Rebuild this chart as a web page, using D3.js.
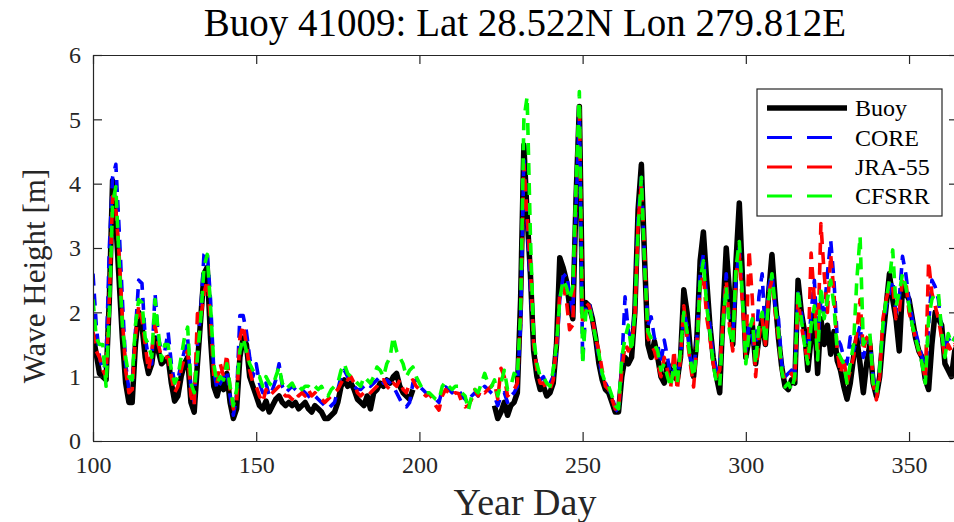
<!DOCTYPE html>
<html><head><meta charset="utf-8">
<script src="https://cdn.jsdelivr.net/npm/d3@7"></script>
<style>body{margin:0;background:#fff}svg{display:block}</style>
</head><body>
<svg id="chart" width="954" height="522"></svg>
<script>
const startDay = 100, endDay = 365;
const xTicks = [100,150,200,250,300,350];
const yTicks = [0,1,2,3,4,5,6];
const seriesNames = ["Buoy","CORE","JRA-55","CFSRR"];
const seriesColors = ["#000000","#0000ff","#ff0000","#00ff00"];

const buoy = [
1.65,1.35,1.05,1.0,0.95,2.2,4.05,3.4,2.5,1.6,
0.9,0.6,0.6,1.5,2.0,1.8,1.3,1.05,1.2,1.6,
1.4,1.2,1.25,1.3,0.9,0.62,0.7,1.0,1.2,1.3,
0.6,0.45,1.2,1.9,2.6,2.7,1.6,0.85,0.7,0.9,
0.8,1.05,0.6,0.35,0.5,1.3,1.6,1.5,1.0,0.85,
0.7,0.55,0.5,0.62,0.45,0.55,0.65,0.7,0.6,0.55,
0.6,0.55,0.6,0.5,0.55,0.6,0.5,0.45,0.55,0.5,
0.45,0.35,0.35,0.4,0.45,0.6,0.85,0.95,0.85,0.9,
0.8,0.65,0.6,0.55,0.7,0.5,0.75,0.8,0.9,0.85,
0.95,0.9,1.0,1.05,0.85,0.75,0.7,0.65,0.8,null,
null,null,null,null,null,null,null,null,null,null,
null,null,null,null,null,null,null,null,null,null,
null,null,null,0.55,0.35,0.45,0.6,0.4,0.55,0.6,
0.75,2.2,4.6,3.5,2.6,1.4,1.0,0.8,0.85,0.7,
0.75,0.9,1.5,2.85,2.7,2.5,2.1,1.9,3.8,5.2,
2.0,2.15,2.1,1.9,1.6,1.2,0.95,0.8,0.75,0.6,
0.45,0.45,1.0,1.3,1.2,1.3,2.0,3.6,4.3,2.8,
1.5,1.3,1.55,1.3,1.0,0.9,1.2,1.1,1.0,0.95,
1.3,2.35,2.0,1.4,1.0,1.6,2.8,3.25,2.5,1.8,
1.3,1.0,0.75,2.0,3.0,2.3,1.5,2.8,3.7,2.5,
1.3,1.6,1.8,1.2,1.6,1.9,1.5,2.3,2.9,2.2,
1.6,1.15,0.85,0.8,0.95,0.9,2.5,2.0,1.7,1.1,
1.6,2.0,1.05,1.9,1.5,1.8,1.35,1.7,1.25,1.1,
0.85,0.65,0.9,1.3,1.6,1.2,0.75,1.2,1.5,0.9,
0.7,1.0,1.6,2.1,2.6,2.2,1.9,1.4,2.4,2.3,
2.2,1.9,1.6,1.4,1.3,0.95,0.8,1.5,2.0,1.9,
1.8,1.2,1.1,1.0,1.4,1.5];

const core = [
2.6,1.8,1.3,1.1,1.2,3.0,4.1,4.3,3.3,2.2,
1.2,0.8,0.85,1.7,2.5,2.45,1.6,1.3,1.2,2.3,
1.6,1.4,1.4,1.7,1.2,0.9,0.95,1.2,1.4,1.6,
0.8,0.6,1.5,2.0,2.9,2.95,2.2,1.1,0.8,0.9,
1.0,1.1,0.7,0.4,0.7,1.95,1.95,1.7,1.3,1.0,
1.2,0.9,0.75,0.9,0.7,0.8,0.95,1.2,0.85,0.75,
0.8,0.85,0.8,0.75,0.8,0.75,0.7,0.65,0.7,0.65,
0.6,0.55,0.5,0.55,0.6,0.8,1.0,1.1,1.0,0.95,
0.85,0.8,0.8,0.85,0.9,0.85,0.9,0.95,1.0,0.9,
0.95,0.9,0.85,0.75,0.65,0.55,0.53,0.6,0.9,0.95,
0.85,0.8,0.75,0.72,0.7,0.65,0.6,0.8,0.84,0.8,
0.75,0.8,0.8,0.7,0.65,0.6,0.7,0.75,0.7,0.8,
0.85,0.8,0.75,0.7,0.55,0.7,0.75,0.6,0.7,0.75,
0.85,1.8,4.4,3.4,2.4,1.5,1.15,0.95,1.0,0.85,
0.9,1.0,1.4,2.2,2.55,2.6,2.3,2.0,3.6,5.1,
1.25,2.1,2.15,1.9,1.6,1.3,1.0,0.9,0.8,0.7,
0.5,0.45,1.2,2.24,1.7,1.6,2.0,3.5,4.1,2.8,
1.8,1.93,1.6,1.5,1.2,1.57,1.3,1.0,1.1,1.0,
1.3,2.0,1.8,1.3,1.1,1.6,2.6,2.9,2.2,1.8,
1.3,1.1,1.2,1.83,2.6,1.8,1.6,2.5,3.0,2.2,
1.4,1.8,1.6,1.3,2.24,2.6,1.6,2.4,2.6,2.1,
1.9,1.2,1.0,1.05,1.1,1.0,2.3,2.0,1.6,1.3,
2.0,2.5,1.5,2.2,2.0,2.6,3.12,2.5,1.6,1.5,
1.3,1.2,1.62,1.4,1.6,1.8,1.3,1.5,1.6,1.0,
0.75,1.1,1.7,2.1,2.3,2.5,2.0,2.2,2.87,2.6,
2.2,1.9,1.7,1.5,1.3,1.0,1.8,2.5,2.4,2.2,
1.7,1.4,1.6,1.5,1.6,1.5];

const jra55 = [
1.7,1.4,1.3,1.1,1.0,2.2,3.8,3.6,2.9,1.9,
1.1,0.75,0.8,1.6,2.1,1.9,1.5,1.1,1.4,1.8,
1.5,1.3,1.3,1.3,1.0,0.75,0.85,1.1,1.3,1.4,
0.7,0.55,1.98,1.9,2.3,2.5,1.9,1.0,0.9,1.2,
1.0,1.35,0.8,0.5,0.6,1.6,1.8,1.5,1.1,0.9,
0.85,0.7,0.6,0.8,0.7,0.75,0.8,0.85,0.75,0.7,
0.7,0.65,0.75,0.7,0.75,0.7,0.8,0.7,0.75,0.7,
0.65,0.6,0.65,0.7,0.75,0.8,0.9,1.0,0.95,1.0,
0.9,0.75,0.7,0.75,0.8,0.75,0.8,0.85,0.95,0.95,
0.85,0.8,0.9,0.85,0.95,0.8,0.75,0.9,0.95,0.85,
0.8,0.75,0.7,0.74,0.65,0.55,0.48,0.7,0.8,0.75,
0.7,0.75,0.74,0.6,0.53,0.55,0.65,0.8,0.7,0.8,
0.75,0.8,0.85,0.9,0.65,1.13,1.0,0.7,0.75,0.8,
0.9,1.9,4.3,3.5,2.7,1.5,1.1,0.9,0.9,0.8,
0.8,0.95,1.5,2.3,2.4,2.2,1.73,1.8,3.9,5.25,
1.8,2.15,2.1,1.9,1.6,1.4,1.1,0.85,0.8,0.65,
0.5,0.5,1.1,1.5,1.4,1.5,1.9,3.4,4.0,2.9,
1.6,1.5,1.4,1.2,1.0,1.3,1.1,0.84,1.41,0.79,
1.3,2.1,1.6,1.2,0.84,1.5,2.4,2.6,1.93,1.6,
1.2,1.0,1.1,1.9,2.5,1.8,1.4,2.6,2.9,2.1,
1.3,2.97,2.2,1.0,1.6,1.9,1.5,2.3,2.5,2.0,
1.6,1.1,0.95,1.0,1.05,0.95,2.2,1.8,1.5,1.2,
2.92,2.2,1.4,3.38,2.6,2.0,2.9,2.3,1.4,1.05,
1.3,0.9,1.1,1.3,1.7,2.2,1.4,1.6,1.67,0.9,
0.64,1.0,1.9,2.2,2.4,2.4,1.9,2.0,2.5,2.5,
2.0,1.8,1.6,1.4,1.25,0.95,2.79,2.3,2.1,1.9,
1.6,1.3,1.5,1.4,1.5,1.4];

const cfsrr = [
2.2,1.6,1.5,1.5,0.85,2.0,3.7,3.95,2.8,1.8,
1.3,1.0,0.95,1.8,2.2,2.15,1.6,1.5,1.3,2.2,
1.7,1.25,1.5,1.5,1.1,0.9,1.0,1.3,1.6,1.77,
0.9,0.75,1.3,1.9,2.7,2.9,2.1,1.2,0.9,1.0,
0.95,1.2,0.85,0.55,0.8,1.4,1.6,1.4,1.2,1.1,
1.0,1.0,0.85,1.0,0.9,0.85,1.0,1.15,0.9,0.8,
0.85,0.9,0.8,0.85,0.8,0.85,0.85,0.8,0.85,0.8,
0.85,0.75,0.7,0.8,0.85,0.9,1.1,1.2,1.05,1.0,
0.95,0.9,0.85,1.0,0.95,0.9,1.0,1.15,1.1,1.0,
1.2,1.3,1.62,1.4,1.3,1.2,1.0,1.1,1.15,1.0,
0.9,0.8,0.75,0.75,0.7,0.65,0.64,0.85,0.92,0.85,
0.8,0.85,0.85,0.75,0.7,0.48,0.7,0.8,0.75,0.9,
1.05,0.9,0.84,0.95,0.7,0.9,1.1,0.8,0.85,1.05,
1.0,2.0,5.0,5.35,3.2,1.6,1.2,1.0,1.0,0.9,
0.85,1.1,1.5,2.2,2.5,2.4,2.2,2.4,4.0,5.43,
1.2,2.0,2.1,1.85,1.6,1.35,1.05,0.9,0.85,0.7,
0.55,0.5,1.3,1.6,1.8,1.4,2.0,3.3,4.1,2.7,
1.7,1.6,1.5,1.4,1.1,1.2,1.0,0.84,1.2,0.9,
1.41,2.0,1.7,1.26,1.0,1.4,2.5,2.8,2.1,1.7,
1.2,0.9,0.85,1.83,2.4,1.7,1.5,2.7,3.1,2.2,
1.2,1.7,1.9,1.2,1.8,2.0,1.52,2.2,2.6,2.1,
1.7,1.1,0.84,0.9,0.79,1.0,2.35,1.9,1.5,1.2,
1.8,2.1,1.26,2.4,1.9,2.2,2.5,2.1,1.4,1.3,
1.2,0.9,1.2,1.5,2.5,3.18,1.5,1.6,1.67,0.9,
0.75,1.1,1.8,2.2,2.5,2.97,2.1,2.3,2.6,2.4,
2.1,1.8,1.6,1.4,1.2,0.9,1.9,2.2,2.3,2.3,
1.7,1.3,1.67,1.52,1.6,1.5];

const allSeries = [buoy, core, jra55, cfsrr];
const days = d3.range(startDay, endDay + 1);

const svg = d3.select("#chart");
const L = 93, T = 55, R = 958, B = 441;
const x = d3.scaleLinear().domain([100, 365]).range([L, R]);
const y = d3.scaleLinear().domain([0, 6]).range([B, T]);
const axisColor = "#262626";
const serif = "'Liberation Serif','Times New Roman',serif";

svg.append("rect").attr("width",954).attr("height",522).attr("fill","#fff");

svg.append("defs").append("clipPath").attr("id","clip")
  .append("rect").attr("x",L).attr("y",T).attr("width",R-L).attr("height",B-T);

const line = d3.line()
  .defined(d => d[1] !== null)
  .x(d => x(d[0])).y(d => y(d[1]));

const g = svg.append("g").attr("clip-path","url(#clip)");
allSeries.forEach((s, i) => {
  g.append("path")
    .datum(days.map((d, k) => [d, s[k]]))
    .attr("d", line)
    .attr("fill","none")
    .attr("stroke", seriesColors[i])
    .attr("stroke-width", i === 0 ? 5.5 : 3.6)
    .attr("stroke-dasharray", i === 0 ? null : "12,8")
    .attr("stroke-linejoin","round");
});

function styleAxis(sel, showText){
  sel.select(".domain").attr("stroke", axisColor).attr("stroke-width",1.2);
  sel.selectAll(".tick line").attr("stroke", axisColor).attr("stroke-width",1.2);
  sel.selectAll("text").attr("fill", showText ? "#262626" : "none")
    .style("font-family", serif).style("font-size","24px");
}
svg.append("g").attr("transform",`translate(0,${B})`)
  .call(d3.axisBottom(x).tickValues(xTicks).tickFormat(d3.format("d")).tickSizeInner(-9).tickSizeOuter(0).tickPadding(15))
  .call(s => styleAxis(s, true));
svg.append("g").attr("transform",`translate(0,${T})`)
  .call(d3.axisTop(x).tickValues(xTicks).tickSizeInner(-9).tickSizeOuter(0).tickFormat(""))
  .call(s => styleAxis(s, false));
svg.append("g").attr("transform",`translate(${L},0)`)
  .call(d3.axisLeft(y).tickValues(yTicks).tickFormat(d3.format("d")).tickSizeInner(-9).tickSizeOuter(0).tickPadding(12))
  .call(s => styleAxis(s, true));
svg.append("g").attr("transform",`translate(${R},0)`)
  .call(d3.axisRight(y).tickValues(yTicks).tickSizeInner(-9).tickSizeOuter(0).tickFormat(""))
  .call(s => styleAxis(s, false));

svg.append("text").attr("x", 525).attr("y", 36).attr("text-anchor","middle")
  .style("font-family", serif).style("font-size","39px").attr("fill","#000")
  .text("Buoy 41009: Lat 28.522N Lon 279.812E");
svg.append("text").attr("x", 525).attr("y", 515).attr("text-anchor","middle")
  .style("font-family", serif).style("font-size","38px").attr("fill","#262626")
  .text("Year Day");
svg.append("text").attr("transform","translate(45,276) rotate(-90)").attr("text-anchor","middle")
  .style("font-family", serif).style("font-size","31px").attr("fill","#262626")
  .text("Wave Height [m]");

const lg = svg.append("g");
lg.append("rect").attr("x",757).attr("y",89).attr("width",185).attr("height",127)
  .attr("fill","#fff").attr("stroke",axisColor).attr("stroke-width",1.2);
const rowY = [108, 137.5, 167, 196];
seriesNames.forEach((n, i) => {
  lg.append("line").attr("x1",767).attr("x2",847).attr("y1",rowY[i]).attr("y2",rowY[i])
    .attr("stroke", seriesColors[i]).attr("stroke-width", i === 0 ? 5.5 : 3.2)
    .attr("stroke-dasharray", i === 0 ? null : "25,15");
  lg.append("text").attr("x",855).attr("y",rowY[i]+8)
    .style("font-family", serif).style("font-size","24px").attr("fill","#000").text(n);
});
</script>
</body></html>
